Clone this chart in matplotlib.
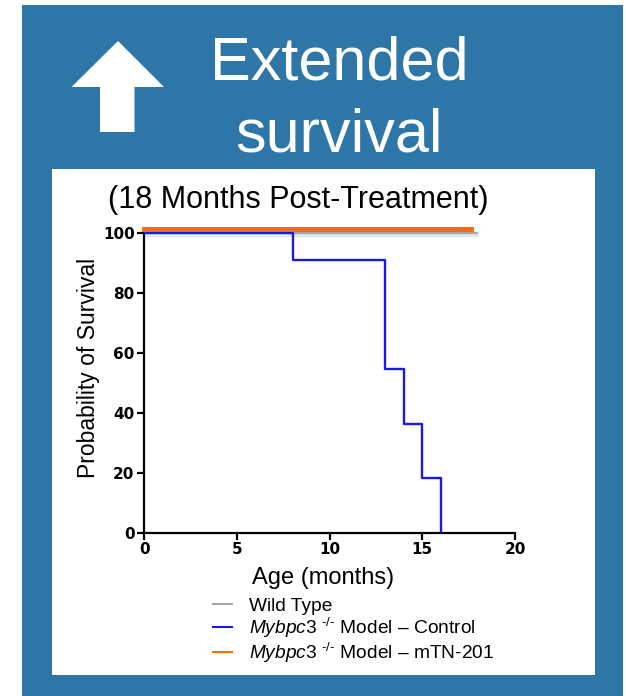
import matplotlib
matplotlib.use("Agg")
import matplotlib.pyplot as plt
from matplotlib.patches import Rectangle, Polygon
from matplotlib.lines import Line2D
import matplotlib.transforms as mtransforms

plt.rcParams['font.family'] = ['Liberation Sans', 'DejaVu Sans']
plt.rcParams['mathtext.fontset'] = 'custom'
plt.rcParams['mathtext.rm'] = 'Liberation Sans'
plt.rcParams['mathtext.it'] = 'Liberation Sans:italic'

# Kaplan-Meier survival data (age in months, survival in %)
wt_age = [0, 18]
wt_surv = [100, 100]

ctrl_age = [0, 8, 8, 13, 13, 14, 14, 15, 15, 16, 16]
ctrl_surv = [100, 100, 90.9, 90.9, 54.5, 54.5, 36.4, 36.4, 18.2, 18.2, 0]

trt_age = [0, 17.6]
trt_surv = [100, 100]

x_ticks = [0, 5, 10, 15, 20]
y_ticks = [0, 20, 40, 60, 80, 100]

series_labels = [
    "Wild Type",
    r"$\mathit{Mybpc}$3 $^{\text{-/-}}$ Model – Control",
    r"$\mathit{Mybpc3}$ $^{\text{-/-}}$ Model – mTN-201",
]
series_colors = ["#a6a6a6", "#1a1ae6", "#ff6a0a"]

W, H = 626, 696
fig = plt.figure(figsize=(W / 100, H / 100), dpi=100)
fig.patch.set_facecolor("white")


def px_rect(x0, y0, x1, y1, **kw):
    """Rectangle given in pixel coordinates measured from the top-left."""
    return Rectangle((x0 / W, 1 - y1 / H), (x1 - x0) / W, (y1 - y0) / H,
                     transform=fig.transFigure, **kw)


fig.patches.append(px_rect(22, 5, 623, 697, facecolor="#2e76a8", edgecolor="none", zorder=0))
fig.patches.append(px_rect(52, 169, 595, 675, facecolor="white", edgecolor="none", zorder=1))

# Upward arrow
arrow_px = [(118, 41), (164, 87), (134.5, 87), (134.5, 132), (100, 132), (100, 87), (71.5, 87)]
fig.patches.append(Polygon([(x / W, 1 - y / H) for x, y in arrow_px], closed=True,
                           transform=fig.transFigure, facecolor="white",
                           edgecolor="none", zorder=2))

fig.text(339 / W, 1 - 79 / H, "Extended", color="white", fontsize=44,
         ha="center", va="baseline", zorder=3)
fig.text(339 / W, 1 - 152 / H, "survival", color="white", fontsize=44,
         ha="center", va="baseline", zorder=3)

fig.text(298 / W, 1 - 208 / H, "(18 Months Post-Treatment)", color="black",
         fontsize=22, ha="center", va="baseline", zorder=3)

# Survival plot
x0, x1 = 144.3, 515.0
y0, y1 = 532.7, 232.7
ax = fig.add_axes([x0 / W, 1 - y0 / H, (x1 - x0) / W, (y0 - y1) / H])
ax.set_zorder(5)
ax.patch.set_alpha(0)
ax.set_xlim(0, 20)
ax.set_ylim(0, 100)

pale = mtransforms.offset_copy(ax.transData, fig=fig, x=0, y=-2.2, units="dots")
ax.plot(wt_age, wt_surv, color="#dde9f4", lw=2.2, transform=pale,
        clip_on=False, solid_capstyle="butt", zorder=2)
ax.plot(wt_age, wt_surv, color=series_colors[0], lw=1.6, clip_on=False,
        solid_capstyle="butt", zorder=3)
ax.plot(ctrl_age, ctrl_surv, color=series_colors[1], lw=1.7, clip_on=False,
        solid_capstyle="butt", zorder=4)
lifted = mtransforms.offset_copy(ax.transData, fig=fig, x=0, y=4, units="dots")
ax.plot(trt_age, trt_surv, color=series_colors[2], lw=3.6, transform=lifted,
        clip_on=False, solid_capstyle="projecting", zorder=5)

for side in ("top", "right"):
    ax.spines[side].set_visible(False)
for side in ("left", "bottom"):
    ax.spines[side].set_linewidth(1.6)
ax.set_xticks(x_ticks)
ax.set_yticks(y_ticks)
ax.tick_params(direction="out", length=5, width=1.6, pad=2)
for lab in ax.get_xticklabels() + ax.get_yticklabels():
    lab.set_fontfamily("DejaVu Sans")
    lab.set_fontweight("bold")
    lab.set_fontsize(11)

fig.text(323 / W, 1 - 584 / H, "Age (months)", fontsize=17,
         ha="center", va="baseline", zorder=3)
fig.text(88 / W, 1 - 368 / H, "Probability of Survival", fontsize=16.5,
         rotation=90, ha="center", va="center", zorder=3)

handles = [Line2D([], [], color=c, lw=1.5) for c in series_colors]
leg = fig.legend(handles, series_labels, loc="upper left",
                 bbox_to_anchor=(203 / W, 1 - 588 / H), frameon=False,
                 fontsize=13.8, handlelength=1.0, handletextpad=0.9,
                 labelspacing=0.05, borderpad=0)
leg.set_zorder(6)

fig.savefig("out.png", dpi=100)
